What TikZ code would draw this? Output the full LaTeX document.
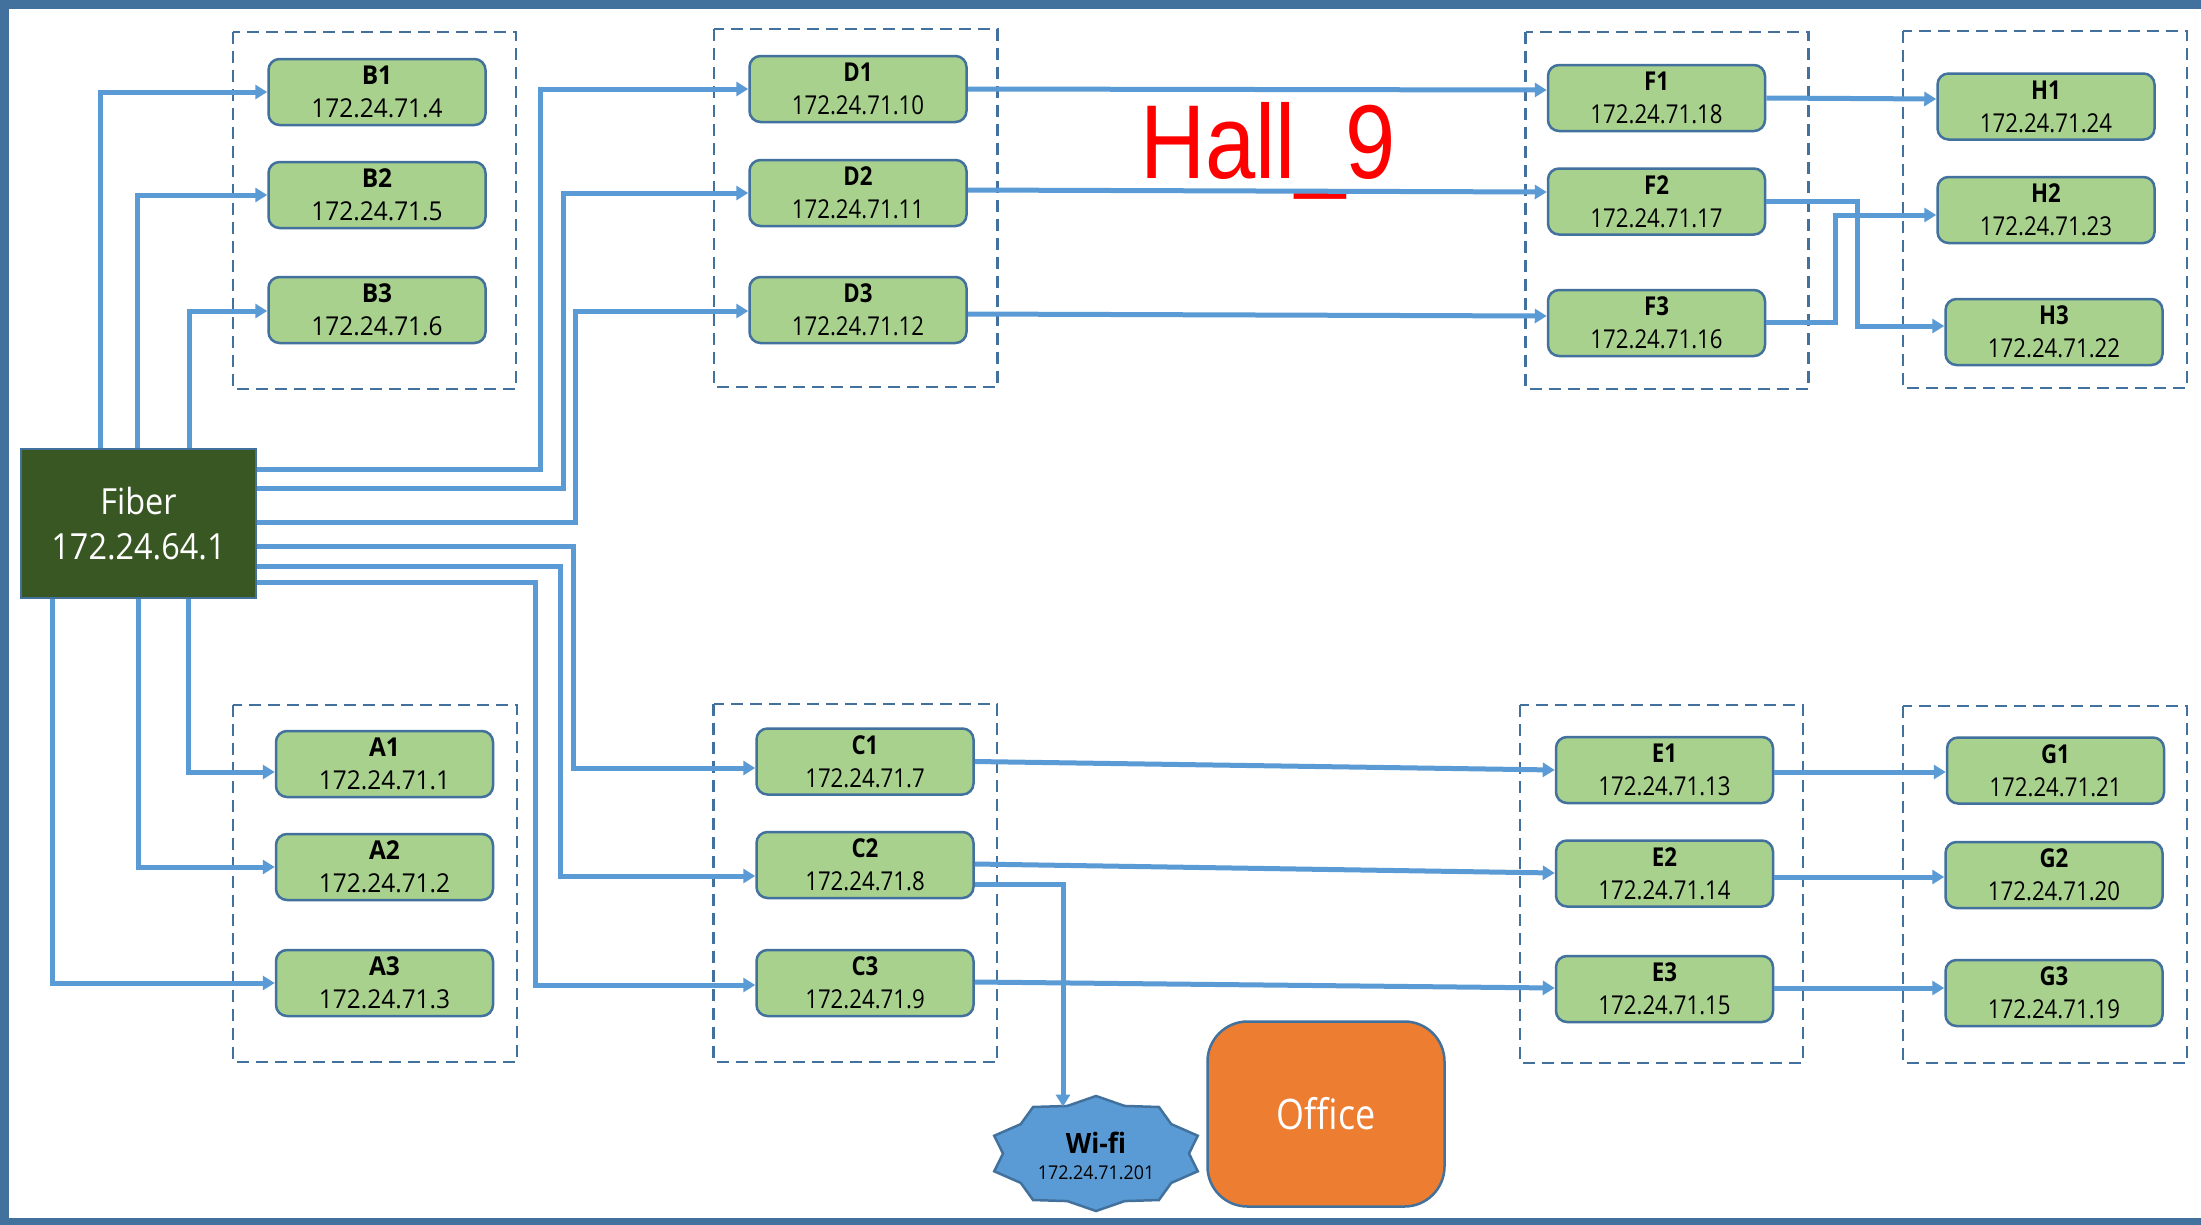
\documentclass[tikz,border=0pt]{standalone}
\usepackage{fontspec}
\setmainfont{Open Sans}
\newfontfamily\fnorm[FakeStretch=0.94]{Open Sans}
\newfontfamily\fcond[FakeStretch=0.855]{Open Sans}
\newfontfamily\ffiber[FakeStretch=0.9]{Open Sans}
\newfontfamily\fhall[FakeStretch=0.86]{Liberation Sans}
\usetikzlibrary{arrows.meta,calc}
\definecolor{lineblue}{HTML}{5B9BD5}
\definecolor{bordblue}{HTML}{41719C}
\definecolor{nodegreen}{HTML}{A9D18E}
\definecolor{fibergreen}{HTML}{385723}
\definecolor{officeorange}{HTML}{ED7D31}
\definecolor{hallred}{HTML}{FF0000}
\tikzset{
  conn/.style={draw=lineblue, line width=5pt, -{Triangle[length=12pt,width=14pt]}},
  grp/.style={draw=bordblue, line width=2.5pt, dash pattern=on 12pt off 7pt},
  dev/.style={draw=bordblue, fill=nodegreen, line width=2.5pt, rounded corners=11pt,
    minimum width=217pt, minimum height=66pt, inner sep=0pt, align=center, text=black},
  devn/.style={dev, font=\fnorm\fontsize{26}{33}\selectfont},
  devc/.style={dev, font=\fcond\fontsize{26}{33}\selectfont},
}
\begin{document}
\begin{tikzpicture}[x=1pt,y=-1pt]
\useasboundingbox (0,0) rectangle (2201,1224);
\clip (0,0) rectangle (2201,1224);
\fill[white] (0,0) rectangle (2201,1224);
\draw[bordblue, line width=9pt] (4.5,4.5) rectangle (2400,1222.5);

% group boxes
\draw[grp] (233,32) rectangle (516,389);
\draw[grp] (233,705) rectangle (517,1062);
\draw[grp] (714,29) rectangle (997.5,387);
\draw[grp] (713.5,704) rectangle (997,1062);
\draw[grp] (1525.5,32) rectangle (1808.5,389);
\draw[grp] (1903,31) rectangle (2187,388);
\draw[grp] (1520,705) rectangle (1803,1063);
\draw[grp] (1903,706) rectangle (2187,1063);

% fiber
\node[draw=bordblue, fill=fibergreen, line width=2pt, minimum width=235pt, minimum height=149pt,
  inner sep=0pt, align=center, text=white, font=\ffiber\fontsize{36}{45}\selectfont]
  (fiber) at (138.5,523.5) {Fiber\\172.24.64.1};

% devices
\node[devn] (B1) at (377,92) {\textbf{B1}\\172.24.71.4};
\node[devn] (B2) at (377,195) {\textbf{B2}\\172.24.71.5};
\node[devn] (B3) at (377,310) {\textbf{B3}\\172.24.71.6};
\node[devn] (A1) at (384.5,764) {\textbf{A1}\\172.24.71.1};
\node[devn] (A2) at (384.5,867) {\textbf{A2}\\172.24.71.2};
\node[devn] (A3) at (384.5,983) {\textbf{A3}\\172.24.71.3};
\node[devc] (D1) at (858,89) {\textbf{D1}\\172.24.71.10};
\node[devc] (D2) at (858,193) {\textbf{D2}\\172.24.71.11};
\node[devc] (D3) at (858,310) {\textbf{D3}\\172.24.71.12};
\node[devc] (C1) at (865,761.5) {\textbf{C1}\\172.24.71.7};
\node[devc] (C2) at (865,865) {\textbf{C2}\\172.24.71.8};
\node[devc] (C3) at (865,983) {\textbf{C3}\\172.24.71.9};
\node[devc] (F1) at (1656.5,98) {\textbf{F1}\\172.24.71.18};
\node[devc] (F2) at (1656.5,201.5) {\textbf{F2}\\172.24.71.17};
\node[devc] (F3) at (1656.5,323) {\textbf{F3}\\172.24.71.16};
\node[devc] (H1) at (2046,106.5) {\textbf{H1}\\172.24.71.24};
\node[devc] (H2) at (2046,210) {\textbf{H2}\\172.24.71.23};
\node[devc] (H3) at (2054,332) {\textbf{H3}\\172.24.71.22};
\node[devc] (E1) at (1664.5,770) {\textbf{E1}\\172.24.71.13};
\node[devc] (E2) at (1664.5,873.5) {\textbf{E2}\\172.24.71.14};
\node[devc] (E3) at (1664.5,989) {\textbf{E3}\\172.24.71.15};
\node[devc] (G1) at (2055.5,770.5) {\textbf{G1}\\172.24.71.21};
\node[devc] (G2) at (2054,875) {\textbf{G2}\\172.24.71.20};
\node[devc] (G3) at (2054,993) {\textbf{G3}\\172.24.71.19};

% title
\node[anchor=base, text=hallred, inner sep=0pt, font=\fhall\fontsize{105}{120}\selectfont]
  (hall) at (1268,178) {Hall\_9};

% wifi star
\begin{scope}[shift={(1096,1153.5)}]
\filldraw[draw=bordblue, fill=lineblue, line width=2.5pt]
 (90:107 and 57.5) -- (72:93 and 50) -- (54:107 and 57.5) -- (36:93 and 50) --
 (18:107 and 57.5) -- (0:93 and 50) -- (-18:107 and 57.5) -- (-36:93 and 50) --
 (-54:107 and 57.5) -- (-72:93 and 50) -- (-90:107 and 57.5) -- (-108:93 and 50) --
 (-126:107 and 57.5) -- (-144:93 and 50) -- (-162:107 and 57.5) -- (180:93 and 50) --
 (162:107 and 57.5) -- (144:93 and 50) -- (126:107 and 57.5) -- (108:93 and 50) -- cycle;
\end{scope}
\node[anchor=base, inner sep=0pt, font=\fnorm\bfseries\fontsize{28}{32}\selectfont] (wifi) at (1096,1153.6) {Wi-fi};
\node[anchor=base, inner sep=0pt, font=\fnorm\fontsize{19}{22}\selectfont] (wifiip) at (1096,1179) {172.24.71.201};

% office
\node[draw=bordblue, fill=officeorange, line width=2.5pt, rounded corners=40pt,
  minimum width=237pt, minimum height=185pt, text=white,
  font=\fcond\fontsize{42}{50}\selectfont] (office) at (1326,1114) {Office};

% connectors from fiber
\draw[conn] (fiber.north -| 100,0) |- (B1);
\draw[conn] (fiber.north -| 137.5,0) |- (B2);
\draw[conn] (fiber.north -| 189,0) |- (B3.west |- 0,311);
\draw[conn] (fiber.south -| 188,0) |- (A1.west |- 0,772);
\draw[conn] (fiber.south -| 138,0) |- (A2);
\draw[conn] (fiber.south -| 52,0) |- (A3);
\draw[conn] (fiber.east |- 0,469) -- (540,469) |- (D1);
\draw[conn] (fiber.east |- 0,488) -- (563,488) |- (D2);
\draw[conn] (fiber.east |- 0,522) -- (575,522) |- (D3.west |- 0,311);
\draw[conn] (fiber.east |- 0,546) -- (573,546) |- (C1.west |- 0,768);
\draw[conn] (fiber.east |- 0,566) -- (560,566) |- (C2.west |- 0,876);
\draw[conn] (fiber.east |- 0,582) -- (535,582) |- (C3.west |- 0,985);

% D -> F -> H
\draw[conn] (D1.east |- 0,89) -- (F1.west |- 0,90);
\draw[conn] (D2.east |- 0,190) -- (F2.west |- 0,192);
\draw[conn] (D3.east |- 0,314) -- (F3.west |- 0,316);
\draw[conn] (F1.east |- 0,98) -- (H1.west |- 0,99);
\draw[conn] (F2.east |- 0,201) -- (1857.5,201) |- (H3.west |- 0,326);
\draw[conn] (F3.east |- 0,322) -- (1835,322) |- (H2.west |- 0,215);

% C -> E -> G, C2 -> wifi
\draw[conn] (C1.east |- 0,761.5) -- (E1.west |- 0,770);
\draw[conn] (C2.east |- 0,864) -- (E2.west |- 0,873);
\draw[conn] (C3.east |- 0,982) -- (E3.west |- 0,988);
\draw[conn] (C2.east |- 0,884) -| ($(wifi.base)+(-33,-47)$);
\draw[conn] (E1.east |- 0,772) -- (G1.west |- 0,772);
\draw[conn] (E2.east |- 0,877) -- (G2.west |- 0,877);
\draw[conn] (E3.east |- 0,988) -- (G3.west |- 0,988);
\end{tikzpicture}
\end{document}
